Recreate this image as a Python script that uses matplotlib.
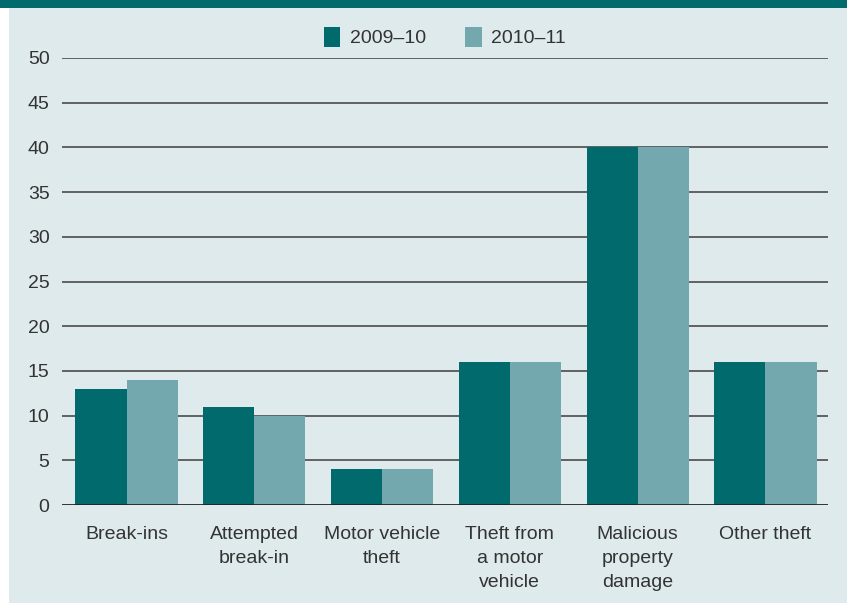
import matplotlib.pyplot as plt
from matplotlib.patches import Rectangle
import numpy as np

# === DATA ===
categories = ["Break-ins", "Attempted\nbreak-in", "Motor vehicle\ntheft",
              "Theft from\na motor\nvehicle", "Malicious\nproperty\ndamage", "Other theft"]
series_names = ["2009\u201310", "2010\u201311"]
values_2009_10 = [13, 11, 4, 16, 40, 16]
values_2010_11 = [14, 10, 4, 16, 40, 16]

DARK = "#006a6c"
LIGHT = "#72a8ae"
BG = "#deeaec"
TXT = "#333333"

plt.rcParams['font.family'] = ['Liberation Sans', 'DejaVu Sans']

fig = plt.figure(figsize=(8.47, 6.03), dpi=100)
fig.patch.set_facecolor("white")
# panel background and title band
fig.patches.append(Rectangle((9 / 847, 0), 1, 1, transform=fig.transFigure,
                             facecolor=BG, edgecolor="none", zorder=-2))
fig.patches.append(Rectangle((0, 1 - 8 / 603), 1, 8 / 603, transform=fig.transFigure,
                             facecolor=DARK, edgecolor="none", zorder=-1))

ax = fig.add_axes([62 / 847, 1 - 505 / 603, (828 - 62) / 847, (505 - 58) / 603])
ax.set_facecolor("none")

x = np.arange(len(categories))
w = 0.4
ax.bar(x - w / 2, values_2009_10, w, color=DARK, label=series_names[0], zorder=3)
ax.bar(x + w / 2, values_2010_11, w, color=LIGHT, label=series_names[1], zorder=3)

ax.set_xlim(-0.505, 5.49)
ax.set_ylim(0, 50)
ax.set_yticks(range(0, 51, 5))
for yv in range(5, 51, 5):
    ax.axhline(yv, color="#4a4a4a", linewidth=1.2, zorder=1)
ax.axhline(0, color="#222222", linewidth=2, zorder=4)

for s in ax.spines.values():
    s.set_visible(False)
ax.tick_params(axis="y", length=0, pad=9, labelsize=14, labelcolor=TXT)
ax.tick_params(axis="x", length=0, pad=15, labelsize=14, labelcolor=TXT)
ax.set_xticks(x)
ax.set_xticklabels(categories, linespacing=1.55)

ax.legend(loc="center", bbox_to_anchor=(0.5, 1 + 21 / 447), ncol=2, frameon=False,
          fontsize=14, handlelength=0.85, handleheight=1.2, columnspacing=2.0,
          handletextpad=0.5, labelcolor=TXT)

fig.savefig("out.png", dpi=100, facecolor=fig.get_facecolor())
